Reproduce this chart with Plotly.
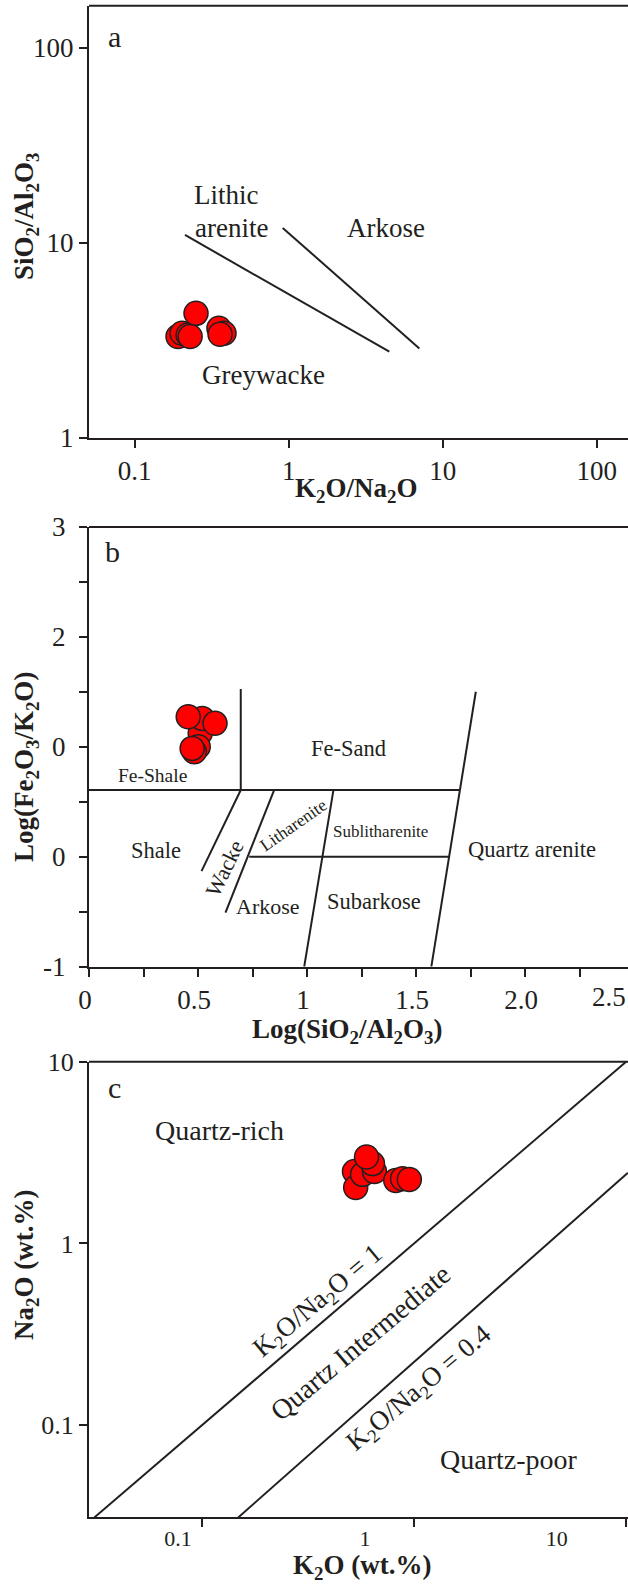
import numpy as np
import plotly.graph_objects as go

W, H = 628, 1585
INK = "#231f20"
RED = "#ff0000"
FONT = "Liberation Serif, Times New Roman, Times, serif"

# ---------------- (a) SiO2/Al2O3 vs K2O/Na2O ----------------
a_k2o_na2o = [0.191, 0.203, 0.222, 0.229, 0.352, 0.380, 0.358, 0.250]
a_sio2_al2o3 = [3.30, 3.43, 3.36, 3.30, 3.64, 3.43, 3.39, 4.34]
a_line1_x = [0.212, 4.50]
a_line1_y = [10.95, 2.76]
a_line2_x = [0.914, 7.05]
a_line2_y = [11.9, 2.87]
a_ticks = [0.1, 1, 10, 100]
a_yticks = [1, 10, 100]

# ---------------- (b) Log(Fe2O3/K2O) vs Log(SiO2/Al2O3) ----------------
b_log_si_al = [0.510, 0.501, 0.483, 0.473, 0.519, 0.455, 0.578]
b_log_fe_k = [1.123, 1.001, 0.955, 0.986, 1.259, 1.274, 1.214]
b_segments = [
    ([0.696, 0.696], [1.526, 0.607]),
    ([0.0, 1.701], [0.607, 0.607]),
    ([1.774, 1.570], [1.501, -1.0]),
    ([0.735, 1.652], [0.0, 0.0]),
    ([0.696, 0.516], [0.607, -0.130]),
    ([0.849, 0.626], [0.607, -0.509]),
    ([1.121, 0.987], [0.607, -1.0]),
]
b_xticks = [0, 0.5, 1, 1.5, 2.0]
b_xticktext = ["0", "0.5", "1", "1.5", "2.0"]
b_yticks = [-1, 0, 1, 2, 3]
b_yticktext = ["-1", "0", "0", "2", "3"]

# ---------------- (c) Na2O vs K2O ----------------
c_k2o = [0.523, 0.530, 0.571, 0.650, 0.636, 0.596, 0.819, 0.882, 0.949]
c_na2o = [2.49, 2.03, 2.40, 2.49, 2.75, 2.99, 2.22, 2.27, 2.25]
c_ratio_one = 1.0
c_line1_k2o = [0.031, 10.0]
c_line2_k2o = [0.148, 10.2]
c_line2_na2o = [0.031, 2.45]
c_tickmarks = [0.0292, 0.1, 1, 10]
c_labelpos = [0.0769, 0.587, 4.71]
c_labeltext = ["0.1", "1", "10"]
c_yticks = [0.031, 0.1, 1, 10]
c_yticktext = ["", "0.1", "1", "10"]


def ydom(top_px, bottom_px):
    return [1 - bottom_px / H, 1 - top_px / H]


X0 = 89 / W
fig = go.Figure()

marker = dict(size=24, color=RED, line=dict(color=INK, width=1.5))
line_style = dict(color=INK, width=2)

# panel a
fig.add_trace(go.Scatter(x=a_line1_x, y=a_line1_y, mode="lines", line=line_style,
                         xaxis="x", yaxis="y"))
fig.add_trace(go.Scatter(x=a_line2_x, y=a_line2_y, mode="lines", line=line_style,
                         xaxis="x", yaxis="y"))
fig.add_trace(go.Scatter(x=a_k2o_na2o, y=a_sio2_al2o3, mode="markers", marker=marker,
                         xaxis="x", yaxis="y"))

# panel b
bx, by = [], []
for sx, sy in b_segments:
    bx += sx + [None]
    by += sy + [None]
fig.add_trace(go.Scatter(x=bx, y=by, mode="lines", line=line_style,
                         xaxis="x2", yaxis="y2"))
fig.add_trace(go.Scatter(x=b_log_si_al, y=b_log_fe_k, mode="markers", marker=marker,
                         xaxis="x2", yaxis="y2"))

# panel c
fig.add_trace(go.Scatter(x=c_line1_k2o, y=[v / c_ratio_one for v in c_line1_k2o],
                         mode="lines", line=line_style, xaxis="x3", yaxis="y3"))
fig.add_trace(go.Scatter(x=c_line2_k2o, y=c_line2_na2o, mode="lines", line=line_style,
                         xaxis="x3", yaxis="y3"))
fig.add_trace(go.Scatter(x=c_k2o, y=c_na2o, mode="markers", marker=marker,
                         xaxis="x3", yaxis="y3"))


def axis(size=27, **kw):
    base = dict(showline=True, linecolor=INK, linewidth=2, ticks="outside", ticklen=8,
                tickwidth=2, tickcolor=INK, showgrid=False, zeroline=False,
                automargin=False, fixedrange=True,
                tickfont=dict(family=FONT, size=size, color=INK))
    base.update(kw)
    return base


fig.update_layout(
    width=W, height=H, autosize=False,
    margin=dict(l=0, r=0, t=0, b=0),
    paper_bgcolor="white", plot_bgcolor="white",
    showlegend=False,
    font=dict(family=FONT, color=INK),
    xaxis=axis(type="log", domain=[X0, 1], anchor="y", range=[-1.297, 2.203],
               tickmode="array", tickvals=a_ticks, ticktext=["0.1", "1", "10", "100"]),
    yaxis=axis(type="log", domain=ydom(5.7, 437.7), anchor="x", range=[0, 2.215],
               tickmode="array", tickvals=a_yticks, ticktext=["1", "10", "100"]),
    xaxis2=axis(domain=[X0, 1], anchor="y2", range=[0, 2.472],
                tickmode="array", tickvals=b_xticks, ticktext=b_xticktext,
                ticklabelshift=-4,
                minor=dict(tickmode="array", tickvals=[0.25, 0.75, 1.25, 1.75, 2.25],
                           ticks="outside", ticklen=8, tickwidth=2, tickcolor=INK)),
    yaxis2=axis(domain=ydom(527, 966.7), anchor="x2", range=[-1, 3],
                tickmode="array", tickvals=b_yticks, ticktext=b_yticktext,
                ticklabelstandoff=8,
                minor=dict(tickmode="array", tickvals=[-0.5, 0.5, 1.5, 2.5],
                           ticks="outside", ticklen=8, tickwidth=2, tickcolor=INK)),
    xaxis3=axis(size=22, type="log", domain=[X0, 1], anchor="y3", range=[-1.534, 1.009],
                tickmode="array", tickvals=c_labelpos, ticktext=c_labeltext, ticks="",
                minor=dict(tickmode="array", tickvals=c_tickmarks,
                           ticks="outside", ticklen=8, tickwidth=2, tickcolor=INK)),
    yaxis3=axis(size=26, type="log", domain=ydom(1061.7, 1517.3), anchor="x3",
                range=[-1.508, 1.0005],
                tickmode="array", tickvals=c_yticks, ticktext=c_yticktext),
)

# top frame edge of each panel
for xr, yr in [("x", "y"), ("x2", "y2"), ("x3", "y3")]:
    fig.add_shape(type="line", xref=f"{xr} domain", yref=f"{yr} domain",
                  x0=0, x1=1, y0=1, y1=1, line=dict(color=INK, width=2))


def note(text, x, y, xr, yr, size, angle=0, logx=False, logy=False, **kw):
    fig.add_annotation(text=text, x=np.log10(x) if logx else x,
                       y=np.log10(y) if logy else y, xref=xr, yref=yr,
                       showarrow=False, textangle=angle,
                       font=dict(family=FONT, size=size, color=INK), **kw)


# panel a labels
note("a", 0.0738, 113.9, "x", "y", 30, logx=True, logy=True)
note("Lithic", 0.394, 17.6, "x", "y", 27, logx=True, logy=True)
note("arenite", 0.423, 11.9, "x", "y", 27, logx=True, logy=True)
note("Arkose", 4.27, 11.9, "x", "y", 27, logx=True, logy=True)
note("Greywacke", 0.683, 2.10, "x", "y", 27, logx=True, logy=True)

# panel b labels
note("b", 0.106, 2.775, "x2", "y2", 30)
note("Fe-Sand", 1.19, 0.986, "x2", "y2", 22.5)
note("Fe-Shale", 0.29, 0.743, "x2", "y2", 19.5)
note("Shale", 0.308, 0.061, "x2", "y2", 22.5)
note("Wacke", 0.621, -0.106, "x2", "y2", 22, angle=-64)
note("Litharenite", 0.937, 0.286, "x2", "y2", 17.5, angle=-35)
note("Sublitharenite", 1.337, 0.228, "x2", "y2", 17)
note("Quartz arenite", 2.031, 0.067, "x2", "y2", 22.5)
note("Arkose", 0.819, -0.455, "x2", "y2", 22)
note("Subarkose", 1.309, -0.403, "x2", "y2", 22.5)

# panel c labels
note("c", 0.0384, 7.26, "x3", "y3", 30, logx=True, logy=True)
note("Quartz-rich", 0.121, 4.21, "x3", "y3", 28, logx=True, logy=True)
note("Quartz-poor", 2.81, 0.0648, "x3", "y3", 28, logx=True, logy=True)
note("K<sub>2</sub>O/Na<sub>2</sub>O = 1", 0.353, 0.478, "x3", "y3", 27,
     angle=-40, logx=True, logy=True)
note("Quartz Intermediate", 0.558, 0.285, "x3", "y3", 28,
     angle=-40, logx=True, logy=True)
note("K<sub>2</sub>O/Na<sub>2</sub>O = 0.4", 1.063, 0.158, "x3", "y3", 27,
     angle=-40, logx=True, logy=True)

# last tick label of panel b sits at the clipped right edge
note("2.5", 1, 1 - 997 / H, "paper", "paper", 27, xanchor="right", yanchor="middle")


def title(text, px, py, angle=0):
    fig.add_annotation(text=f"<b>{text}</b>", x=px / W, y=1 - py / H, xref="paper",
                       yref="paper", showarrow=False, textangle=angle,
                       xanchor="center", yanchor="middle",
                       font=dict(family=FONT, size=27, color=INK))


title("K<sub>2</sub>O/Na<sub>2</sub>O", 356, 490)
title("SiO<sub>2</sub>/Al<sub>2</sub>O<sub>3</sub>", 26, 217, -90)
title("Log(SiO<sub>2</sub>/Al<sub>2</sub>O<sub>3</sub>)", 347, 1031)
title("Log(Fe<sub>2</sub>O<sub>3</sub>/K<sub>2</sub>O)", 26, 767, -90)
title("K<sub>2</sub>O (wt.%)", 362, 1567)
title("Na<sub>2</sub>O (wt.%)", 26, 1265, -90)

fig.write_html("out.html")
